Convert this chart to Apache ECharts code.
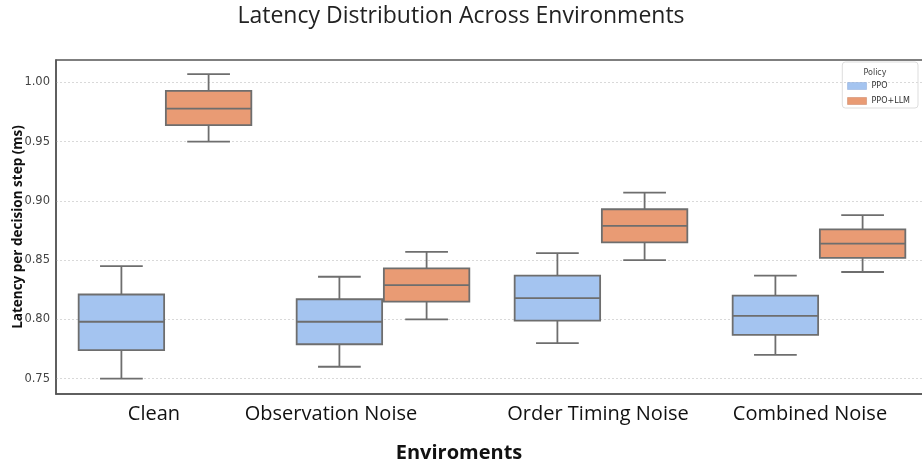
<!DOCTYPE html>
<html>
<head>
<meta charset="utf-8">
<script src="https://cdn.jsdelivr.net/npm/echarts@6/dist/echarts.min.js"></script>
<style>html,body{margin:0;padding:0;background:#fff}#c{width:922px;height:466px}</style>
</head>
<body>
<div id="c"></div>
<script>
const categories = ['Clean', 'Observation Noise', 'Order Timing Noise', 'Combined Noise'];
const labelShift = [-11, -52, -3, -9];
const yTicks = [0.75, 0.80, 0.85, 0.90, 0.95, 1.00];
// [lower whisker, Q1, median, Q3, upper whisker]
const ppo = [
  [0.750, 0.774, 0.798, 0.821, 0.845],
  [0.760, 0.779, 0.798, 0.817, 0.836],
  [0.780, 0.799, 0.818, 0.837, 0.856],
  [0.770, 0.787, 0.803, 0.820, 0.837]
];
const ppoLlm = [
  [0.950, 0.964, 0.978, 0.993, 1.007],
  [0.800, 0.815, 0.829, 0.843, 0.857],
  [0.850, 0.865, 0.879, 0.893, 0.907],
  [0.840, 0.852, 0.864, 0.876, 0.888]
];

const chart = echarts.init(document.getElementById('c'));
const stroke = '#6e6e6e';

function makeRender(side, fill) {
  return function (params, api) {
    const ci = api.value(0);
    const bw = api.size([1, 0])[0];
    const cx = api.coord([ci, 0])[0] + side * bw * 0.2;
    const w = bw * 0.392;
    const yMin = api.coord([ci, api.value(1)])[1];
    const yQ1 = api.coord([ci, api.value(2)])[1];
    const yMed = api.coord([ci, api.value(3)])[1];
    const yQ3 = api.coord([ci, api.value(4)])[1];
    const yMax = api.coord([ci, api.value(5)])[1];
    const ls = {stroke: stroke, lineWidth: 1.8, fill: null};
    const capW = w / 2;
    return {
      type: 'group',
      children: [
        {type: 'line', shape: {x1: cx, y1: yMax, x2: cx, y2: yQ3}, style: ls},
        {type: 'line', shape: {x1: cx, y1: yQ1, x2: cx, y2: yMin}, style: ls},
        {type: 'line', shape: {x1: cx - capW / 2, y1: yMax, x2: cx + capW / 2, y2: yMax}, style: ls},
        {type: 'line', shape: {x1: cx - capW / 2, y1: yMin, x2: cx + capW / 2, y2: yMin}, style: ls},
        {type: 'rect', shape: {x: cx - w / 2, y: yQ3, width: w, height: yQ1 - yQ3}, style: {fill: fill, stroke: stroke, lineWidth: 1.8}},
        {type: 'line', shape: {x1: cx - w / 2, y1: yMed, x2: cx + w / 2, y2: yMed}, style: ls}
      ]
    };
  };
}

const rich = {};
labelShift.forEach((s, i) => {
  rich['l' + i] = {
    fontFamily: 'Open Sans', fontSize: 20, color: '#111',
    padding: s < 0 ? [0, -2 * s, 0, 0] : [0, 0, 0, 2 * s]
  };
});

chart.setOption({
  animation: false,
  title: [
    {text: 'Latency Distribution Across Environments', left: 'center', top: 0,
      textStyle: {fontFamily: 'Open Sans', fontSize: 23, fontWeight: 'normal', color: '#222'}},
    {text: 'Policy', left: 870, top: 64, textAlign: 'center',
      textStyle: {fontFamily: 'DejaVu Sans', fontSize: 8, fontWeight: 'normal', color: '#444'}}
  ],
  legend: {
    orient: 'vertical', right: 4, top: 62,
    padding: [20, 8, 3, 5], itemGap: 7, icon: 'rect',
    itemWidth: 19, itemHeight: 7,
    borderColor: '#dddddd', borderWidth: 1, borderRadius: 3,
    textStyle: {fontFamily: 'DejaVu Sans', fontSize: 8, color: '#333'},
    data: [
      {name: 'PPO', itemStyle: {color: '#a4c4f0', borderColor: '#8aa9d8', borderWidth: 0.5}},
      {name: 'PPO+LLM', itemStyle: {color: '#e99b74', borderColor: '#c98060', borderWidth: 0.5}}
    ]
  },
  grid: {left: 56, top: 60, width: 872, height: 334, outerBoundsMode: 'none', containLabel: false,
    show: true, borderColor: '#555', borderWidth: 1.5},
  xAxis: {
    type: 'category', data: categories,
    name: 'Enviroments', nameLocation: 'middle', nameGap: 49, nameMoveOverlap: false,
    nameTextStyle: {fontFamily: 'Open Sans', fontSize: 20, fontWeight: 'bold', color: '#111', padding: [0, 66, 0, 0]},
    axisLine: {lineStyle: {color: '#555', width: 1.5}},
    axisTick: {alignWithLabel: true, length: 4, lineStyle: {color: '#666'}},
    axisLabel: {margin: 10, formatter: (v, i) => '{l' + i + '|' + v + '}', rich: rich},
    splitLine: {show: false}
  },
  yAxis: {
    type: 'value', min: 0.737, max: 1.019,
    name: 'Latency per decision step (ms)', nameLocation: 'middle', nameGap: 31, nameRotate: 90,
    nameMoveOverlap: false,
    nameTextStyle: {fontFamily: 'Open Sans', fontSize: 13.5, fontWeight: 'bold', color: '#111'},
    axisLine: {show: true, lineStyle: {color: '#555', width: 1.5}},
    axisTick: {show: false, customValues: yTicks},
    axisLabel: {customValues: yTicks, formatter: v => v.toFixed(2), fontFamily: 'DejaVu Sans', fontSize: 11.5, color: '#444', margin: 6},
    splitLine: {show: true, lineStyle: {color: '#d9d9d9', type: [2, 2], width: 1}}
  },
  series: [
    {name: 'PPO', type: 'custom', renderItem: makeRender(-1, '#a4c4f0'),
      itemStyle: {color: '#a4c4f0'},
      encode: {x: 0, y: [1, 2, 3, 4, 5]},
      data: ppo.map((d, i) => [i].concat(d))},
    {name: 'PPO+LLM', type: 'custom', renderItem: makeRender(1, '#e99b74'),
      itemStyle: {color: '#e99b74'},
      encode: {x: 0, y: [1, 2, 3, 4, 5]},
      data: ppoLlm.map((d, i) => [i].concat(d))}
  ]
});
</script>
</body>
</html>
